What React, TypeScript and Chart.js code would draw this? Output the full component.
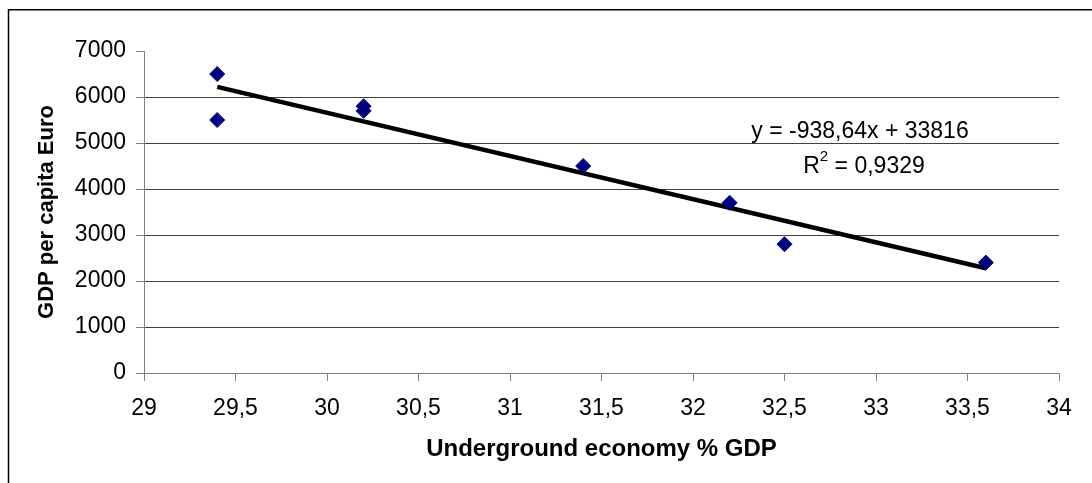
import React, { useEffect, useRef } from "react";
import { Chart, registerables } from "chart.js";

Chart.register(...registerables);

// ---- data ----
const UNDERGROUND_ECONOMY = [29.4, 29.4, 30.2, 30.2, 31.4, 32.2, 32.5, 33.6];
const GDP_PER_CAPITA = [6500, 5500, 5800, 5700, 4500, 3700, 2800, 2400];
const TREND_SLOPE = -938.64;
const TREND_INTERCEPT = 33816;
const TREND_EQUATION = "y = -938,64x + 33816";
const R_SQUARED = "0,9329";
const X_TITLE = "Underground economy % GDP";
const Y_TITLE = "GDP per capita Euro";

const FONT = '"Liberation Sans", Arial, sans-serif';

const fmt = (v: number) => String(v).replace(".", ",");

export default function App() {
  const ref = useRef<HTMLCanvasElement | null>(null);

  useEffect(() => {
    if (!ref.current) return;
    const xMin = Math.min(...UNDERGROUND_ECONOMY);
    const xMax = Math.max(...UNDERGROUND_ECONOMY);
    const trend = [xMin, xMax].map((x) => ({ x, y: TREND_SLOPE * x + TREND_INTERCEPT }));

    const framePlugin = {
      id: "frame",
      beforeDraw(chart: any) {
        const ctx = chart.ctx;
        ctx.save();
        ctx.fillStyle = "#fff";
        ctx.fillRect(0, 0, chart.width, chart.height);
        ctx.strokeStyle = "#000";
        ctx.lineWidth = 1.5;
        ctx.beginPath();
        ctx.moveTo(8.5, chart.height + 5);
        ctx.lineTo(8.5, 9.75);
        ctx.lineTo(chart.width + 5, 9.75);
        ctx.stroke();
        ctx.restore();
      },
    };

    const labelPlugin = {
      id: "trendLabel",
      afterDatasetsDraw(chart: any) {
        const ctx = chart.ctx;
        ctx.save();
        ctx.fillStyle = "#000";
        ctx.textBaseline = "alphabetic";
        ctx.font = `23px ${FONT}`;
        ctx.textAlign = "center";
        ctx.fillText(TREND_EQUATION, 860, 138);
        ctx.textAlign = "left";
        const partR = "R";
        const partRest = " = " + R_SQUARED;
        const wR = ctx.measureText(partR).width;
        const wRest = ctx.measureText(partRest).width;
        ctx.font = `15px ${FONT}`;
        const w2 = ctx.measureText("2").width;
        const total = wR + w2 + wRest;
        let x = 864 - total / 2;
        ctx.font = `23px ${FONT}`;
        ctx.fillText(partR, x, 173);
        x += wR;
        ctx.font = `15px ${FONT}`;
        ctx.fillText("2", x, 161);
        x += w2;
        ctx.font = `23px ${FONT}`;
        ctx.fillText(partRest, x, 173);
        ctx.restore();
      },
    };

    const chart = new Chart(ref.current, {
      type: "scatter",
      data: {
        datasets: [
          {
            label: "GDP",
            data: UNDERGROUND_ECONOMY.map((x, i) => ({ x, y: GDP_PER_CAPITA[i] })),
            pointStyle: "rectRot",
            pointRadius: 7.5,
            backgroundColor: "#000080",
            borderColor: "#000080",
            borderWidth: 1,
          },
          {
            label: "Trend",
            data: trend,
            showLine: true,
            borderColor: "#000",
            borderWidth: 4.5,
            pointRadius: 0,
          } as any,
        ],
      },
      options: {
        animation: false,
        responsive: false,
        devicePixelRatio: 1,
        layout: { padding: { top: 51, right: 33, left: 0, bottom: 0 } },
        plugins: { legend: { display: false }, tooltip: { enabled: false } },
        scales: {
          x: {
            type: "linear",
            min: 29,
            max: 34,
            afterFit: (s: any) => {
              s.height = 110;
            },
            ticks: {
              stepSize: 0.5,
              callback: (v: any) => fmt(Number(v)),
              color: "#000",
              font: { family: FONT, size: 23 },
              padding: 14,
            },
            grid: {
              drawOnChartArea: false,
              drawTicks: true,
              tickLength: 8,
              tickColor: "#808080",
            },
            border: { color: "#808080", width: 1 },
            title: {
              display: true,
              text: X_TITLE,
              color: "#000",
              font: { family: FONT, size: 24, weight: "bold" },
              padding: { top: 0, bottom: 19.6 },
            },
          },
          y: {
            type: "linear",
            min: 0,
            max: 7000,
            afterFit: (s: any) => {
              s.width = 144;
            },
            ticks: {
              stepSize: 1000,
              callback: (v: any) => String(v),
              color: "#000",
              font: { family: FONT, size: 23 },
              padding: 10,
            },
            grid: {
              color: (c: any) =>
                c.tick && c.tick.value > 0 && c.tick.value < 7000 ? "#404040" : "rgba(0,0,0,0)",
              tickColor: "#808080",
              tickLength: 8,
              lineWidth: 1,
            },
            border: { color: "#808080", width: 1 },
            title: {
              display: true,
              text: Y_TITLE,
              color: "#000",
              font: { family: FONT, size: 22, weight: "bold" },
              padding: { top: 34, bottom: 0 },
            },
          },
        },
      },
      plugins: [framePlugin, labelPlugin],
    });
    return () => chart.destroy();
  }, []);

  return (
    <div style={{ position: "fixed", left: 0, top: 0, width: 1092, height: 483, background: "#fff" }}>
      <canvas ref={ref} width={1092} height={483} style={{ display: "block", width: 1092, height: 483 }} />
    </div>
  );
}
